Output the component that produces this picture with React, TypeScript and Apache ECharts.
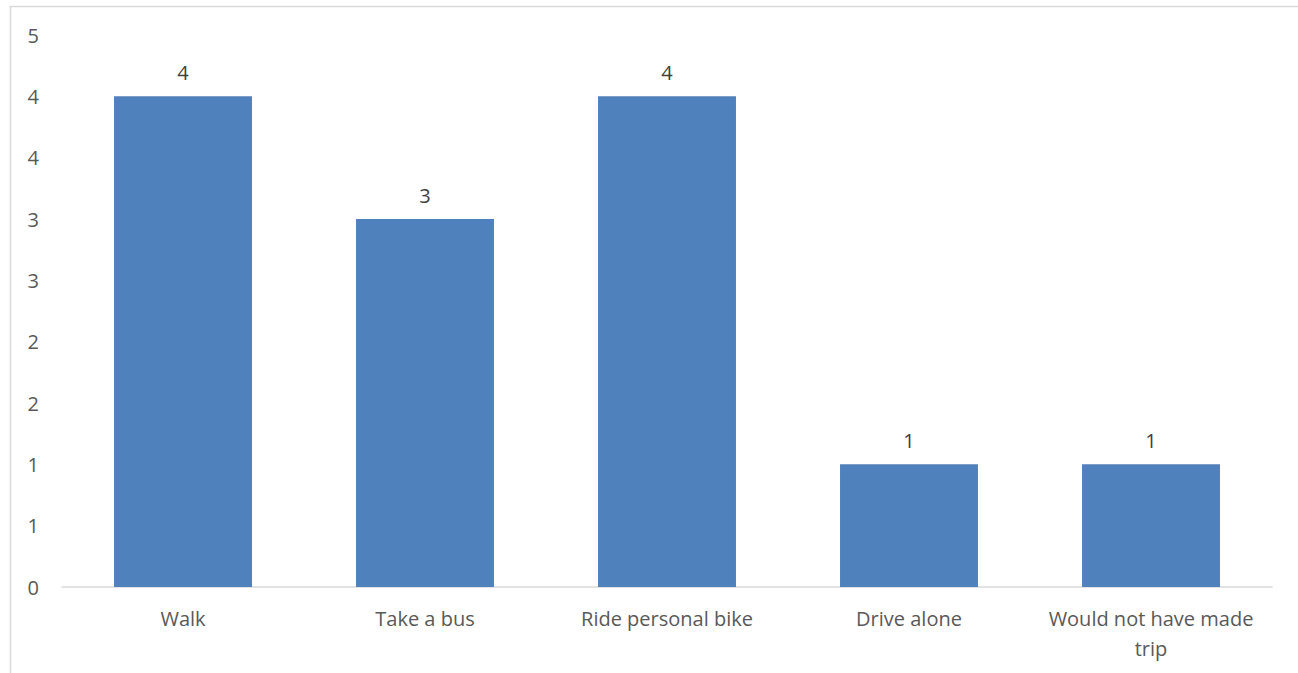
import React, { useEffect, useRef } from "react";
import * as echarts from "echarts";

const categories = ["Walk", "Take a bus", "Ride personal bike", "Drive alone", "Would not have made\ntrip"];
const values = [4, 3, 4, 1, 1];

const FONT = "'Open Sans', 'Liberation Sans', sans-serif";
const TEXT = "#595959";

export default function App() {
  const ref = useRef<HTMLDivElement>(null);
  useEffect(() => {
    const chart = echarts.init(ref.current!, null, { renderer: "svg" });
    chart.setOption({
      animation: false,
      backgroundColor: "#ffffff",
      grid: { left: 62, right: 26, top: 35, bottom: 86, containLabel: false },
      graphic: [
        {
          type: "rect",
          shape: { x: 10.5, y: 6.5, width: 1400, height: 800 },
          style: { fill: "none", stroke: "#d9d9d9", lineWidth: 1.5 },
          silent: true,
        },
      ],
      xAxis: {
        type: "category",
        data: categories,
        axisLine: { show: true, lineStyle: { color: "#d9d9d9", width: 1.5 } },
        axisTick: { show: false },
        axisLabel: {
          interval: 0,
          hideOverlap: false,
          color: TEXT,
          fontFamily: FONT,
          fontSize: 20,
          margin: 16,
          lineHeight: 30,
        },
      },
      yAxis: {
        type: "value",
        min: 0,
        max: 4.5,
        interval: 0.5,
        splitLine: { show: false },
        axisLine: { show: false },
        axisTick: { show: false },
        axisLabel: {
          color: TEXT,
          fontFamily: FONT,
          fontSize: 20,
          margin: 23,
          formatter: (v: number) => String(Math.round(v + 1e-9)),
        },
      },
      series: [
        {
          type: "bar",
          data: values,
          barWidth: "57%",
          itemStyle: { color: "#4F81BD" },
          label: {
            show: true,
            position: "top",
            distance: 14,
            color: "#404040",
            fontFamily: FONT,
            fontSize: 20,
          },
        },
      ],
    });
    return () => chart.dispose();
  }, []);
  return (
    <div
      ref={ref}
      style={{ position: "absolute", left: 0, top: 0, width: 1298, height: 673 }}
    />
  );
}
